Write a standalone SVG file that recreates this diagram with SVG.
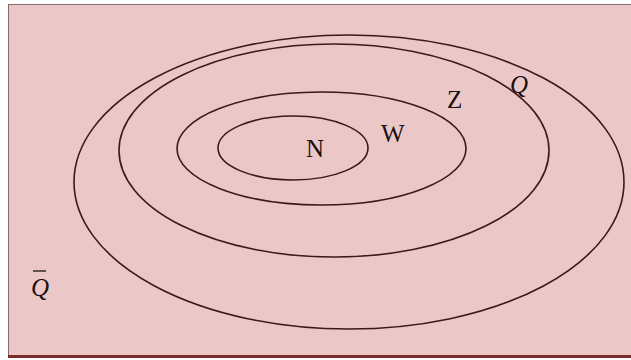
<svg xmlns="http://www.w3.org/2000/svg" width="631" height="360" viewBox="0 0 631 360">
<style>
.set{fill:none;stroke:#3a1a1a;stroke-width:1.6}
.lbl{font-family:"Liberation Serif","Times New Roman",serif;font-size:25px;fill:#1a1010}
.it{font-style:italic}
</style>
<rect x="0" y="0" width="631" height="360" fill="#ffffff"/>
<rect x="8.5" y="4.5" width="623" height="351" fill="#ebc7c7" stroke="#8a6a6a" stroke-width="1"/>
<line x1="8" y1="356.5" x2="631" y2="356.5" stroke="#7a2a2a" stroke-width="3"/>
<g id="connectors"></g>
<g id="Qbar-region">
<text class="lbl it" x="31" y="296">Q</text>
<line x1="33" y1="271" x2="46" y2="271" stroke="#1a1010" stroke-width="1.3"/>
</g>
<g id="Q">
<ellipse class="set" cx="349" cy="182" rx="275" ry="147"/>
<text class="lbl it" x="510" y="93">Q</text>
</g>
<g id="Z">
<ellipse class="set" cx="334" cy="150.5" rx="215" ry="106.5"/>
<text class="lbl" x="447" y="108">Z</text>
</g>
<g id="W">
<ellipse class="set" cx="321.5" cy="148.5" rx="144.5" ry="56.5"/>
<text class="lbl" x="381" y="142">W</text>
</g>
<g id="N">
<ellipse class="set" cx="293" cy="148" rx="75" ry="32"/>
<text class="lbl" x="306" y="157">N</text>
</g>
</svg>
